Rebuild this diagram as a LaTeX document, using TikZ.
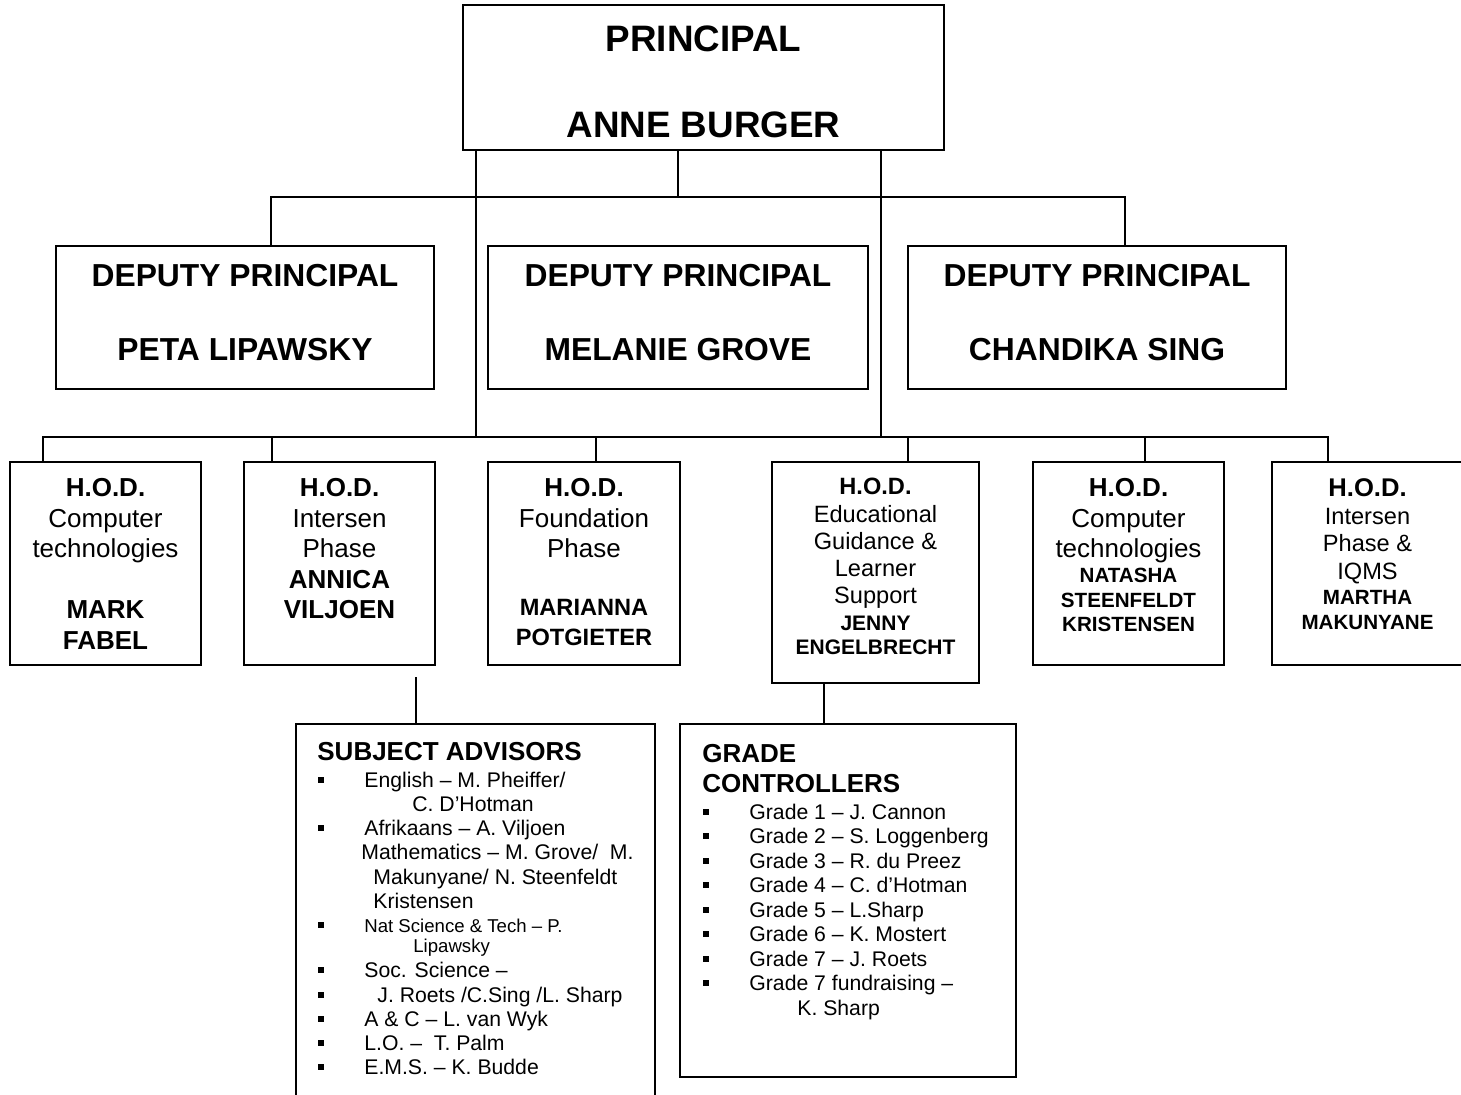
\documentclass[tikz,border=0pt]{standalone}
\usepackage{fontspec}
\setmainfont{Liberation Sans}
\usetikzlibrary{calc}
\newcommand{\smallsz}{\fontsize{9.3}{11}\selectfont}
\newcommand{\nmsz}[2]{{\bfseries\fontsize{#1}{12}\selectfont #2}}
\tikzset{
  box/.style={draw, line width=1pt, inner sep=0pt},
  link/.style={line width=1pt},
  toptxt/.style={font=\bfseries\fontsize{18.4}{43}\selectfont, align=center, inner sep=0pt, anchor=north},
  deptxt/.style={font=\bfseries\fontsize{15.9}{37}\selectfont, align=center, inner sep=0pt, anchor=north},
  hodtxt/.style={font=\fontsize{13}{15.25}\selectfont, align=center, inner sep=0pt, anchor=north},
  listhead/.style={font=\bfseries\fontsize{13}{15}\selectfont, inner sep=0pt, anchor=base west},
  listitem/.style={font=\fontsize{10.6}{12}\selectfont, inner sep=0pt, anchor=base west}
}

\begin{document}
\begin{tikzpicture}[x=0.5pt, y=-0.5pt, line cap=rect]
  \useasboundingbox (0,0) rectangle (1461,1094);

  % boxes
  \node[box, minimum width=240.5pt, minimum height=72.5pt] (principal) at (703.5,77.5) {};
  \node[box, minimum width=189pt, minimum height=71.5pt] (dep1) at (245,317.5) {};
  \node[box, minimum width=190pt, minimum height=71.5pt] (dep2) at (678,317.5) {};
  \node[box, minimum width=189pt, minimum height=71.5pt] (dep3) at (1097,317.5) {};
  \node[box, minimum width=95.5pt, minimum height=101.5pt] (hod1) at (105.5,563.5) {};
  \node[box, minimum width=95.5pt, minimum height=101.5pt] (hod2) at (339.5,563.5) {};
  \node[box, minimum width=96pt, minimum height=101.5pt] (hod3) at (584,563.5) {};
  \node[box, minimum width=103.5pt, minimum height=110.5pt] (hod4) at (875.5,572.5) {};
  \node[box, minimum width=95.5pt, minimum height=101.5pt] (hod5) at (1128.5,563.5) {};
  \node[box, minimum width=95.5pt, minimum height=101.5pt] (hod6) at (1367.5,563.5) {};
  \node[box, minimum width=179.5pt, minimum height=193pt] (advisors) at (475.5,917) {};
  \node[box, minimum width=168pt, minimum height=176.5pt] (grades) at (848,900.5) {};

  % texts
  \node[toptxt] (principaltxt) at (703.5,25) {PRINCIPAL\\ANNE BURGER};
  \node[deptxt] (dep1txt) at (245,263.5) {DEPUTY PRINCIPAL\\PETA LIPAWSKY};
  \node[deptxt] (dep2txt) at (678,263.5) {DEPUTY PRINCIPAL\\MELANIE GROVE};
  \node[deptxt] (dep3txt) at (1097,263.5) {DEPUTY PRINCIPAL\\CHANDIKA SING};

  \node[hodtxt] (hod1txt) at (105.5,478.4)
    {\textbf{H.O.D.}\\Computer\\technologies\\[15.25pt]\textbf{MARK}\\\textbf{FABEL}};
  \node[hodtxt] (hod2txt) at (339.5,478.4)
    {\textbf{H.O.D.}\\Intersen\\Phase\\\textbf{ANNICA}\\\textbf{VILJOEN}};
  \node[hodtxt] (hod3txt) at (584,478.4)
    {\textbf{H.O.D.}\\Foundation\\Phase\\[13.5pt]\nmsz{11.8}{MARIANNA}\\\nmsz{11.8}{POTGIETER}};
  \node[hodtxt, font=\fontsize{11.8}{13.6}\selectfont] (hod4txt) at (875.5,478)
    {\textbf{H.O.D.}\\Educational\\Guidance \&\\Learner\\Support\\\nmsz{10.5}{JENNY}\\[-1.9pt]\nmsz{10.5}{ENGELBRECHT}};
  \node[hodtxt] (hod5txt) at (1128.5,478.4)
    {\textbf{H.O.D.}\\Computer\\technologies\\[-2.75pt]\nmsz{10.3}{NATASHA}\\[-3pt]\nmsz{10.3}{STEENFELDT}\\[-3pt]\nmsz{10.3}{KRISTENSEN}};
  \node[hodtxt, font=\fontsize{11.8}{13.7}\selectfont] (hod6txt) at (1367.5,478.7)
    {\nmsz{12.8}{H.O.D.}\\Intersen\\Phase \&\\IQMS\\[-1.2pt]\nmsz{10.3}{MARTHA}\\[-1.2pt]\nmsz{10.3}{MAKUNYANE}};

  % connectors
  \coordinate (busA) at (271,197);
  \coordinate (busB) at (1125,197);
  \draw[link] (dep2.north |- principal.south) -- (dep2.north |- busA);
  \draw[link] (busA |- dep1.north) -- (busA) -- (busB) -- (busB |- dep3.north);
  \coordinate (busC) at (43,437);
  \coordinate (busD) at (1328,437);
  \coordinate (legL) at (476,437);
  \coordinate (legR) at (881,437);
  \draw[link] (legL |- principal.south) -- (legL);
  \draw[link] (legR |- principal.south) -- (legR);
  \draw[link] (busC |- hod1.north) -- (busC) -- (busD) -- (busD |- hod6.north);
  \foreach \xx/\nn in {272/hod2, 596/hod3, 908/hod4, 1145/hod5} {
    \coordinate (drop-\nn) at (\xx,437);
    \draw[link] (drop-\nn) -- (drop-\nn |- \nn.north);
  }
  \coordinate (advisorslink) at (416,678);
  \draw[link] (advisorslink) -- (advisorslink |- advisors.north);
  \coordinate (gradeslink) at (824,700);
  \draw[link] (gradeslink |- hod4.south) -- (gradeslink |- grades.north);

  % subject advisors list
  \node[listhead] (advisorshead) at (317,760) {SUBJECT ADVISORS};
  \foreach \yy/\xx/\txt [count=\i] in {
      787/364/{English – M. Pheiffer/},
      811/412/{C. D’Hotman},
      835/364/{Afrikaans – A. Viljoen},
      859/361/{Mathematics – M. Grove/\ \ M.},
      884/373/{Makunyane/ N. Steenfeldt},
      908/373/{Kristensen},
      932/364/{\smallsz Nat Science \& Tech – P.},
      952/413/{\smallsz Lipawsky},
      977/364/{Soc. Science –},
      1002/377/{J. Roets /C.Sing /L. Sharp},
      1026/364/{A \& C – L. van Wyk},
      1050/364/{L.O. –\ \ T. Palm},
      1074/364/{E.M.S. – K. Budde}}
    \node[listitem] (adv\i) at (\xx,\yy) {\txt};
  \foreach \yy in {787,835,932,977,1002,1026,1050,1074}
    \fill (318,\yy-10) rectangle (324,\yy-4);

  % grade controllers list
  \node[listhead] (gradeshead) at (702,762) {GRADE};
  \node[listhead] (gradeshead2) at (702,792) {CONTROLLERS};
  \foreach \yy/\xx/\txt [count=\i] in {
      819/749/{Grade 1 – J. Cannon},
      843/749/{Grade 2 – S. Loggenberg},
      868/749/{Grade 3 – R. du Preez},
      892/749/{Grade 4 – C. d’Hotman},
      917/749/{Grade 5 – L.Sharp},
      941/749/{Grade 6 – K. Mostert},
      966/749/{Grade 7 – J. Roets},
      990/749/{Grade 7 fundraising –},
      1015/797/{K. Sharp}}
    \node[listitem] (grd\i) at (\xx,\yy) {\txt};
  \foreach \yy in {819,843,868,892,917,941,966,990}
    \fill (703,\yy-10) rectangle (709,\yy-4);
\end{tikzpicture}
\end{document}
